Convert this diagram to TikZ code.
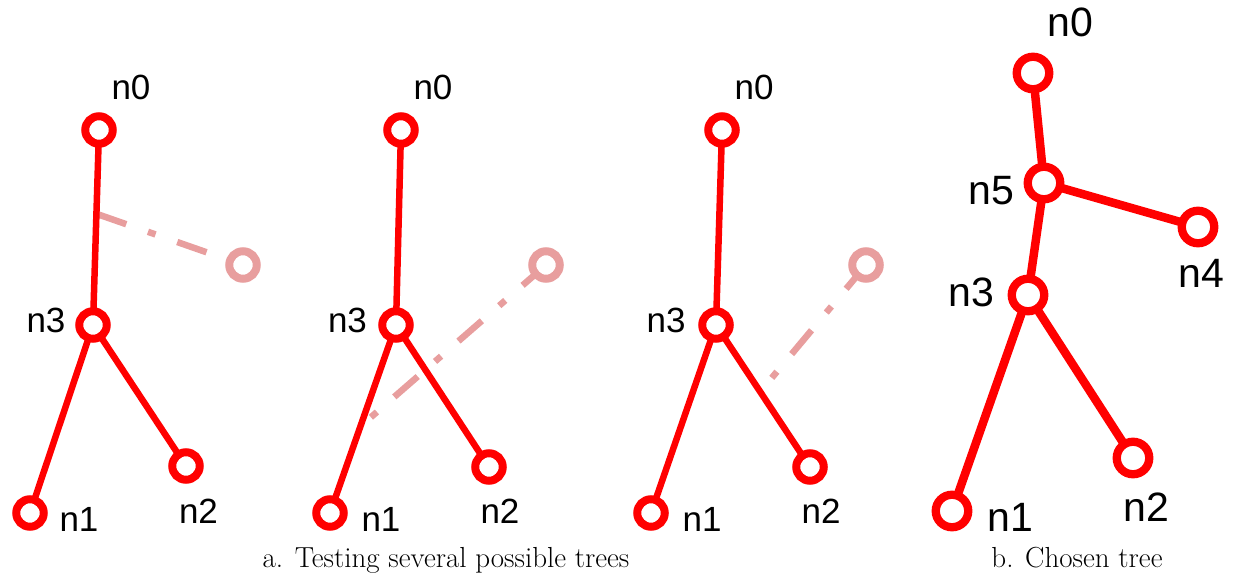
\documentclass[tikz,border=0pt]{standalone}
\usepackage{fontspec}
\usepackage{tikz}
\usetikzlibrary{backgrounds}
\newfontfamily\lblfont{Liberation Sans}
\definecolor{treered}{RGB}{255,0,0}
\definecolor{trypink}{RGB}{232,158,158}

\begin{document}
\begin{tikzpicture}[x=1bp,y=-1bp,
  vtx/.style={circle,draw=treered,fill=white,line width=8bp,minimum size=27.5bp,inner sep=0pt,outer sep=0pt},
  bigvtx/.style={vtx,line width=8.3bp,minimum size=32.5bp},
  tryvtx/.style={vtx,draw=trypink},
  tedge/.style={draw=treered,line width=6.5bp},
  bigtedge/.style={tedge,line width=8.5bp},
  tryedge/.style={draw=trypink,line width=6.5bp,dash pattern=on 31bp off 23bp on 8bp off 23bp},
  lbl/.style={anchor=base,inner sep=0pt,outer sep=0pt,font=\lblfont\fontsize{35bp}{42bp}\selectfont},
  biglbl/.style={lbl,font=\lblfont\fontsize{41bp}{49bp}\selectfont},
  figcap/.style={anchor=base,inner sep=0pt,outer sep=0pt,font=\fontsize{29bp}{35bp}\selectfont}]
  \useasboundingbox (0,0) rectangle (1233,575);
  % a. first try
  \node[vtx] (t1n0) at (99,130) {};
  \node[vtx] (t1n3) at (93,325) {};
  \node[vtx] (t1n1) at (30,513) {};
  \node[vtx] (t1n2) at (186,466) {};
  \node[tryvtx] (t1try) at (243,265) {};
  \coordinate (t1hit) at (97,214);
  \node[lbl] (t1l0) at (131,100) {n0};
  \node[lbl] (t1l3) at (46,333) {n3};
  \node[lbl] (t1l1) at (79,531.5) {n1};
  \node[lbl] (t1l2) at (198.5,523.5) {n2};
  % a. second try
  \node[vtx] (t2n0) at (401,130) {};
  \node[vtx] (t2n3) at (396,325) {};
  \node[vtx] (t2n1) at (330,513) {};
  \node[vtx] (t2n2) at (489,467) {};
  \node[tryvtx] (t2try) at (546,265) {};
  \coordinate (t2hit) at (370,418);
  \node[lbl] (t2l0) at (433,100) {n0};
  \node[lbl] (t2l3) at (347.5,333) {n3};
  \node[lbl] (t2l1) at (381,531.5) {n1};
  \node[lbl] (t2l2) at (500,523.5) {n2};
  % a. third try
  \node[vtx] (t3n0) at (722,130) {};
  \node[vtx] (t3n3) at (716,325) {};
  \node[vtx] (t3n1) at (651,513) {};
  \node[vtx] (t3n2) at (810,467) {};
  \node[tryvtx] (t3try) at (866,265) {};
  \coordinate (t3hit) at (770,380);
  \node[lbl] (t3l0) at (754,100) {n0};
  \node[lbl] (t3l3) at (666,333) {n3};
  \node[lbl] (t3l1) at (702,531.5) {n1};
  \node[lbl] (t3l2) at (821,523.5) {n2};
  % b. chosen
  \node[bigvtx] (t4n0) at (1033,73) {};
  \node[bigvtx] (t4n5) at (1044,183) {};
  \node[bigvtx] (t4n4) at (1198,227) {};
  \node[bigvtx] (t4n3) at (1028,295) {};
  \node[bigvtx] (t4n1) at (952,511) {};
  \node[bigvtx] (t4n2) at (1133,458) {};
  \node[biglbl] (t4l0) at (1070,36.5) {n0};
  \node[biglbl] (t4l5) at (991,205) {n5};
  \node[biglbl] (t4l4) at (1201,288) {n4};
  \node[biglbl] (t4l3) at (971,306.5) {n3};
  \node[biglbl] (t4l1) at (1010,531.5) {n1};
  \node[biglbl] (t4l2) at (1146,521.5) {n2};
  % captions
  \node[figcap] (capa) at (446,567) {a. Testing several possible trees};
  \node[figcap] (capb) at (1077,567) {b. Chosen tree};
  \begin{scope}[on background layer]
    \draw[tryedge] (t1hit) -- (t1try.center);
    \draw[tryedge] (t2try.center) -- (t2hit);
    \draw[tryedge] (t3try.center) -- (t3hit);
    \draw[tedge] (t1n0.center) -- (t1n3.center) -- (t1n1.center) (t1n3.center) -- (t1n2.center);
    \draw[tedge] (t2n0.center) -- (t2n3.center) -- (t2n1.center) (t2n3.center) -- (t2n2.center);
    \draw[tedge] (t3n0.center) -- (t3n3.center) -- (t3n1.center) (t3n3.center) -- (t3n2.center);
    \draw[bigtedge] (t4n0.center) -- (t4n5.center) -- (t4n3.center) -- (t4n1.center)
      (t4n5.center) -- (t4n4.center) (t4n3.center) -- (t4n2.center);
  \end{scope}
\end{tikzpicture}
\end{document}
